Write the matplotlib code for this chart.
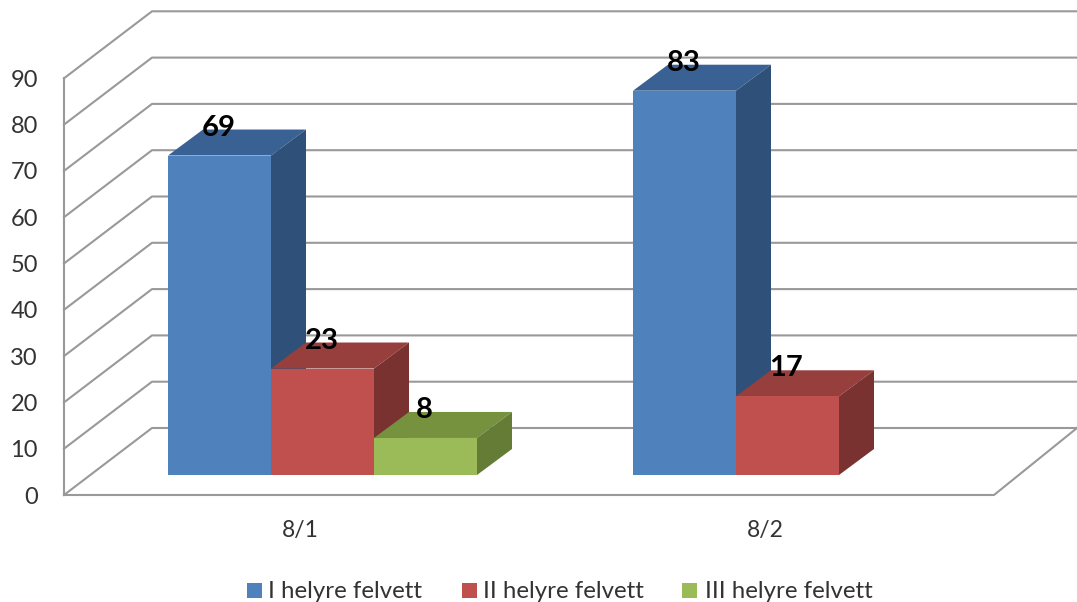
import matplotlib
matplotlib.use('Agg')
import matplotlib.pyplot as plt
from matplotlib.patches import Polygon

plt.rcParams['font.family'] = ['Lato', 'DejaVu Sans']

categories = ['8/1', '8/2']
series_names = ['I helyre felvett', 'II helyre felvett', 'III helyre felvett']
series_values = [[69, 83], [23, 17], [8, None]]
y_ticks = [0, 10, 20, 30, 40, 50, 60, 70, 80, 90]

# front, top, side colours per series
colors = [('#4f81bd', '#3a6193', '#2f5078'),
          ('#c0504d', '#963f3c', '#7a3230'),
          ('#9bbb59', '#76923f', '#647c36')]

PX = 4.63  # pixels per value unit
W, H = 1077, 602
FLOOR = 495
AXIS_X = 64
WALL_DX, WALL_DY = 88, 67 / PX
BAR_DX, BAR_DY = 35, 26 / PX
BASE = 20 / PX
BAR_W = 103
GROUP_X = [168, 633]

fig = plt.figure(figsize=(W / 100, H / 100), dpi=100)
ax = fig.add_axes([0, 0, 1, 1])
ax.set_xlim(0, W)
ax.set_ylim(-(H - FLOOR) / PX, FLOOR / PX)
ax.axis('off')

grid = '#999999'
for v in y_ticks:
    ax.plot([AXIS_X, AXIS_X + WALL_DX, W + 5], [v, v + WALL_DY, v + WALL_DY],
            color=grid, lw=1.5, zorder=1)
    ax.text(38, v - 2 / PX, str(v), ha='right', va='center',
            fontsize=17, color='#333333')
ax.plot([AXIS_X, AXIS_X], [0, y_ticks[-1]], color=grid, lw=1.5, zorder=1)
# floor
ax.plot([AXIS_X, 994, W], [0, 0, WALL_DY], color=grid, lw=1.5, zorder=1)


def draw_bar(x, value, cols):
    y0 = BASE
    y1 = BASE + value
    ax.add_patch(Polygon([(x, y1), (x + BAR_W, y1), (x + BAR_W + BAR_DX, y1 + BAR_DY),
                          (x + BAR_DX, y1 + BAR_DY)], fc=cols[1], ec='none', zorder=3))
    ax.add_patch(Polygon([(x + BAR_W, y0), (x + BAR_W + BAR_DX, y0 + BAR_DY),
                          (x + BAR_W + BAR_DX, y1 + BAR_DY), (x + BAR_W, y1)],
                         fc=cols[2], ec='none', zorder=3))
    ax.add_patch(Polygon([(x, y0), (x + BAR_W, y0), (x + BAR_W, y1), (x, y1)],
                         fc=cols[0], ec='none', zorder=4))
    ax.text(x + BAR_W / 2 - 1, y1 + 28 / PX, str(value), ha='center', va='center',
            fontsize=21, fontweight='bold', color='black', zorder=6)


for g, gx in enumerate(GROUP_X):
    for s in range(len(series_names)):
        val = series_values[s][g]
        if val is None:
            continue
        draw_bar(gx + s * BAR_W, val, colors[s])
    ax.text(gx + 132, -35 / PX, categories[g], ha='center', va='center',
            fontsize=16.5, color='#333333')

# legend
legend_x = [247, 462, 682]
legend_text_x = [268, 483, 705]
legend_y = -(590.5 - FLOOR) / PX
for name, lx, tx, cols in zip(series_names, legend_x, legend_text_x, colors):
    ax.add_patch(Polygon([(lx, legend_y - 7.5 / PX), (lx + 15, legend_y - 7.5 / PX),
                          (lx + 15, legend_y + 7.5 / PX), (lx, legend_y + 7.5 / PX)],
                         fc=cols[0], ec='none'))
    ax.text(tx, legend_y - 1 / PX, name, ha='left', va='center', fontsize=17.3, color='#333333')

fig.savefig('out.png', dpi=100)
